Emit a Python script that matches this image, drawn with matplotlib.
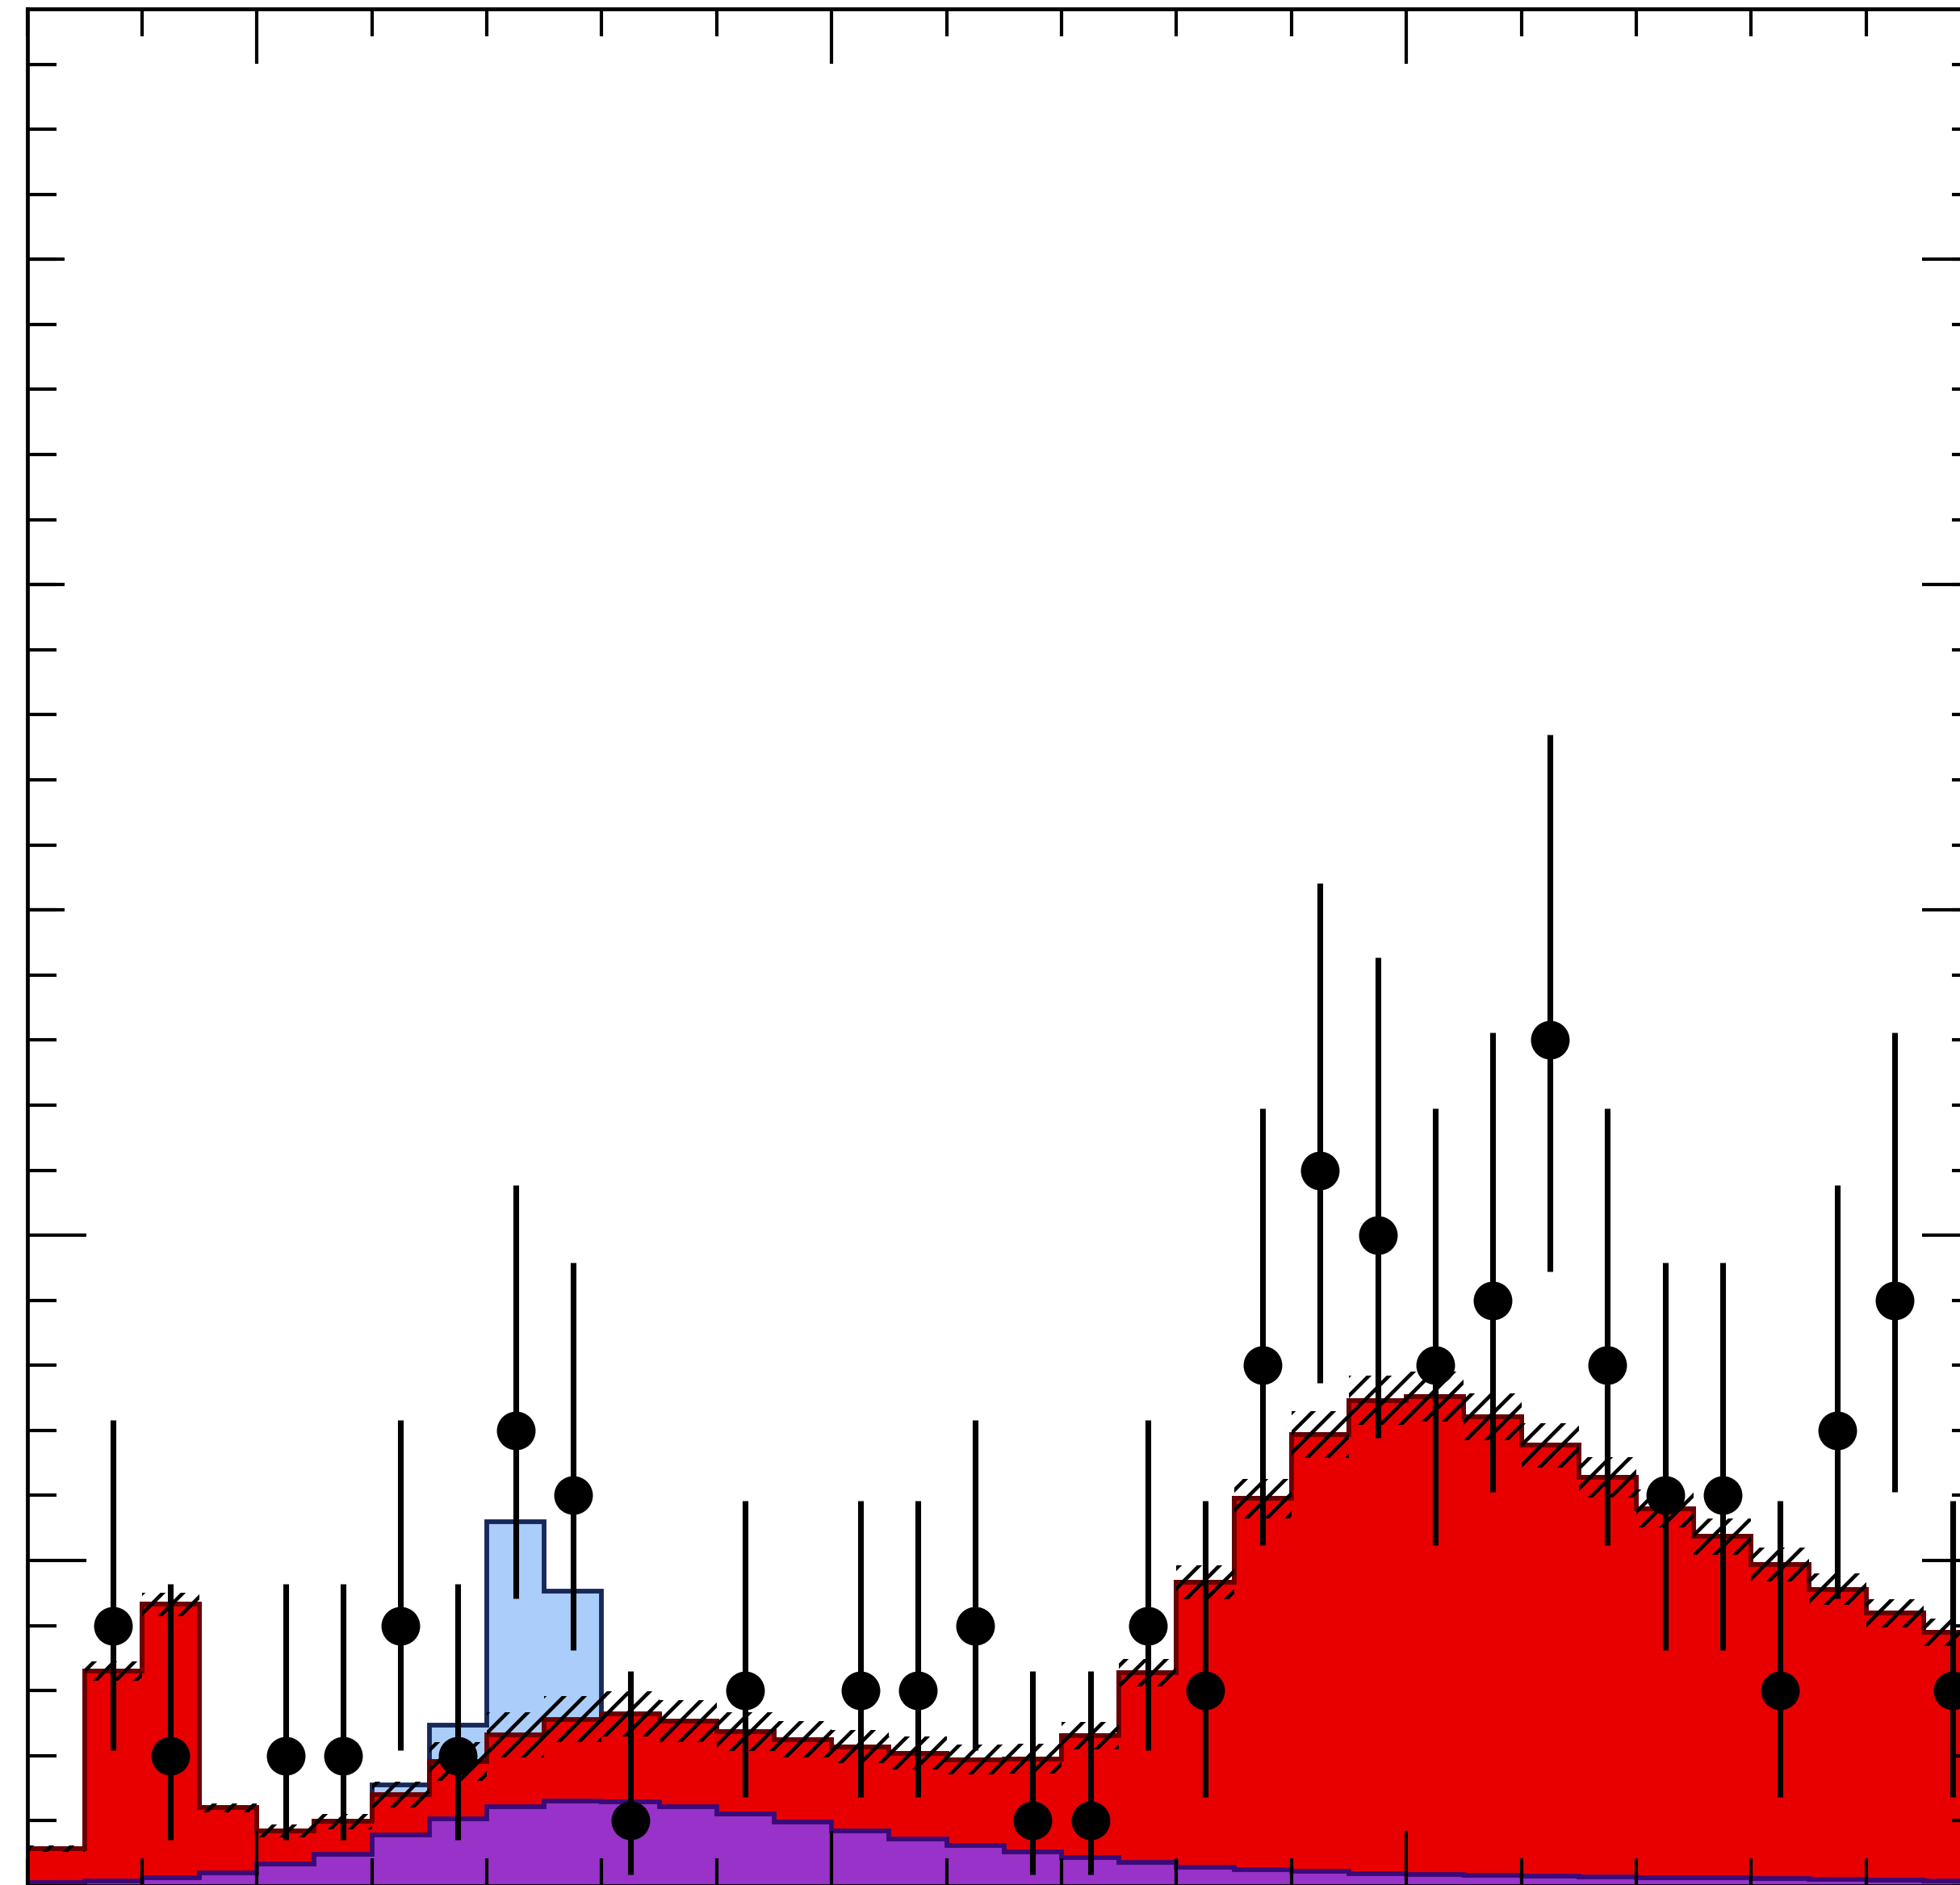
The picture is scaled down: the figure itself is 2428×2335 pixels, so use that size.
import numpy as np
import matplotlib
matplotlib.use("Agg")
import matplotlib.pyplot as plt
from matplotlib.ticker import FixedLocator, MultipleLocator

# ---- binned inputs (34 bins) ----
bin_edges = np.arange(0, 35)

# observed events per bin
data_counts = np.array([0, 4, 2, 0, 2, 2, 4, 2, 7, 6, 1, 0, 3, 0, 3, 3, 4,
                        1, 1, 4, 3, 8, 11, 10, 8, 9, 13, 8, 6, 6, 3, 7, 9, 3])

# lower background component (purple)
bkg_purple = np.array([0.05, 0.07, 0.13, 0.20, 0.34, 0.49, 0.78, 1.03, 1.21, 1.30,
                       1.29, 1.22, 1.10, 0.98, 0.84, 0.72, 0.62, 0.52, 0.43, 0.36,
                       0.29, 0.25, 0.22, 0.19, 0.17, 0.16, 0.15, 0.14, 0.13, 0.12,
                       0.11, 0.10, 0.09, 0.08])

# main background component (red)
bkg_red = np.array([0.52, 3.23, 4.20, 1.00, 0.50, 0.50, 0.62, 0.88, 1.11, 1.26,
                    1.35, 1.31, 1.27, 1.27, 1.30, 1.32, 1.32, 1.43, 1.88, 2.92,
                    4.38, 5.70, 6.72, 7.27, 7.35, 7.05, 6.62, 6.14, 5.67, 5.25,
                    4.83, 4.46, 4.10, 3.82])

# signal expectation (light blue), stacked on top of the background
signal = np.array([0, 0, 0, 0, 0, 0, 0.15, 0.56, 3.28, 1.97,
                   0, 0, 0, 0, 0, 0, 0, 0, 0, 0,
                   0, 0, 0, 0, 0, 0, 0, 0, 0, 0,
                   0, 0, 0, 0], dtype=float)

# background uncertainty (half width of the hatched band)
bkg_unc = np.array([0.05, 0.15, 0.18, 0.07, 0.10, 0.12, 0.20, 0.30, 0.35, 0.35,
                    0.35, 0.32, 0.30, 0.28, 0.26, 0.25, 0.23, 0.23, 0.21, 0.21,
                    0.26, 0.30, 0.36, 0.38, 0.38, 0.36, 0.34, 0.31, 0.29, 0.28,
                    0.26, 0.24, 0.22, 0.21])

# ---- colours ----
RED, RED_EDGE = "#e80000", "#6a0000"
PURPLE, PURPLE_EDGE = "#9832c8", "#3a0a78"
BLUE, BLUE_EDGE = "#aacdfa", "#16295a"


def poisson_cdf(n, mu):
    term = np.exp(-mu)
    total = term
    for k in range(1, n + 1):
        term *= mu / k
        total += term
    return total


def solve_decreasing(f, lo, hi):
    """Root of a function that decreases with its argument."""
    for _ in range(200):
        mid = 0.5 * (lo + hi)
        if f(mid) > 0:
            lo = mid
        else:
            hi = mid
    return 0.5 * (lo + hi)


def garwood(n, cl=0.682689):
    """Frequentist (Garwood) central interval for a Poisson count."""
    alpha = (1.0 - cl) / 2.0
    upper = solve_decreasing(lambda mu: poisson_cdf(n, mu) - alpha,
                             float(n), n + 10.0 * np.sqrt(n + 1) + 10.0)
    if n == 0:
        lower = 0.0
    else:
        lower = solve_decreasing(lambda mu: poisson_cdf(n - 1, mu) - (1.0 - alpha),
                                 0.0, float(n))
    return lower, upper


plt.rcParams["hatch.linewidth"] = 2.2
plt.rcParams["hatch.color"] = "black"

W, H, DPI = 2428, 2335, 150
fig = plt.figure(figsize=(W / DPI, H / DPI), dpi=DPI)
fig.patch.set_facecolor("white")

nbins = len(data_counts)
ax = fig.add_axes([33.5 / W, -1.0 / H, nbins * 71.2 / W, 2325.0 / H])
ax.set_xlim(bin_edges[0], bin_edges[-1])
ax.set_ylim(0, 28.85)

# stacked expectation
bkg_total = bkg_purple + bkg_red
sig_total = bkg_total + signal

ax.stairs(sig_total, bin_edges, fill=True, facecolor=BLUE, edgecolor=BLUE_EDGE,
          linewidth=2.8, zorder=1.0)
ax.stairs(bkg_total, bin_edges, fill=True, facecolor=RED, edgecolor=RED_EDGE,
          linewidth=2.8, zorder=1.1)
ax.stairs(bkg_purple, bin_edges, fill=True, facecolor=PURPLE, edgecolor=PURPLE_EDGE,
          linewidth=2.8, zorder=1.2)

# hatched uncertainty band on the total background
ax.stairs(bkg_total + bkg_unc, bin_edges, baseline=bkg_total - bkg_unc, fill=True,
          facecolor="none", edgecolor="black", linewidth=0, hatch="//", zorder=1.3)

# data points with Poisson intervals, empty bins omitted
centers = 0.5 * (bin_edges[:-1] + bin_edges[1:])
has_data = data_counts > 0
intervals = np.array([garwood(int(n)) for n in data_counts[has_data]])
y_obs = data_counts[has_data].astype(float)
yerr = np.vstack([y_obs - intervals[:, 0], intervals[:, 1] - y_obs])
ax.errorbar(centers[has_data], y_obs, yerr=yerr, fmt="o", color="black",
            markersize=22, elinewidth=3.4, capsize=0, zorder=3)

# frame and ticks
for sp in ax.spines.values():
    sp.set_linewidth(2.3)
    sp.set_zorder(4)

ax.xaxis.set_major_locator(FixedLocator([4, 14, 24, 34]))
ax.xaxis.set_minor_locator(MultipleLocator(2))
ax.yaxis.set_major_locator(FixedLocator([5, 10]))
ax.yaxis.set_minor_locator(MultipleLocator(1))
ax.tick_params(which="both", direction="in", top=True, bottom=True, left=True,
               right=True, labelbottom=False, labelleft=False, width=2.0,
               color="black")
ax.tick_params(axis="x", which="major", length=32.6)
ax.tick_params(axis="x", which="minor", length=16.3)
ax.tick_params(axis="y", which="major", length=35.0)
ax.tick_params(axis="y", which="minor", length=17.3)

sec_left = ax.secondary_yaxis("left")
sec_left.set_yticks([15, 20, 25])
sec_left.tick_params(direction="in", length=22.0, width=2.0, labelleft=False)

sec_right = ax.secondary_yaxis("right")
sec_right.set_yticks([15, 20, 25])
sec_right.tick_params(direction="in", length=35.0, width=2.0, labelright=False)

for sec in (sec_left, sec_right):
    for sp in sec.spines.values():
        sp.set_visible(False)

fig.savefig("out.png", dpi=DPI, facecolor="white")
